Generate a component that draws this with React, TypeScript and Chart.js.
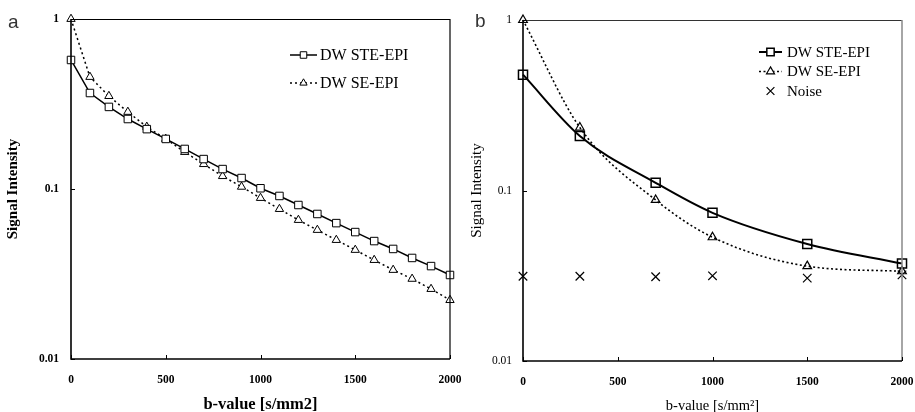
import React, { useEffect, useRef } from "react";
import { Chart, registerables } from "chart.js";
import { drawPoint } from "chart.js/helpers";

Chart.register(...registerables);

// ---- Panel a data ----
const bValuesA = [0, 100, 200, 300, 400, 500, 600, 700, 800, 900, 1000, 1100, 1200, 1300, 1400, 1500, 1600, 1700, 1800, 1900, 2000];
const steA = [0.574, 0.367, 0.304, 0.258, 0.225, 0.197, 0.172, 0.15, 0.131, 0.116, 0.101, 0.091, 0.0805, 0.0713, 0.063, 0.0558, 0.0494, 0.0444, 0.0393, 0.0352, 0.0312];
const seA = [1.0, 0.456, 0.352, 0.284, 0.232, 0.197, 0.165, 0.14, 0.119, 0.103, 0.0885, 0.0762, 0.0657, 0.0574, 0.0501, 0.0438, 0.0382, 0.0334, 0.0296, 0.0258, 0.0222];

// ---- Panel b data ----
const bValuesB = [0, 300, 700, 1000, 1500, 2000];
const steB = [0.478, 0.209, 0.111, 0.074, 0.0486, 0.0373];
const seB = [1.0, 0.234, 0.088, 0.0532, 0.036, 0.0336];
const noiseB = [0.0314, 0.0314, 0.0312, 0.0316, 0.0306, 0.032];

const yTickValues = [0.01, 0.1, 1];
const xTickValues = [0, 500, 1000, 1500, 2000];

const SERIF = "'Liberation Serif', 'Times New Roman', serif";

const toPoints = (xs: number[], ys: number[]) => xs.map((x, i) => ({ x, y: ys[i] }));

const framePlugin = {
  id: "frame",
  afterDatasetsDraw(chart: any, _args: any, opts: any) {
    const { ctx, chartArea: a, scales } = chart;
    ctx.save();
    ctx.lineWidth = 1;
    ctx.strokeStyle = opts.topColor || "#000";
    ctx.beginPath();
    ctx.moveTo(a.left, a.top + 0.5);
    ctx.lineTo(a.right, a.top + 0.5);
    ctx.stroke();
    ctx.lineWidth = opts.rightWidth || 1;
    ctx.strokeStyle = opts.rightColor || "#000";
    ctx.beginPath();
    ctx.moveTo(a.right, a.top);
    ctx.lineTo(a.right, a.bottom);
    ctx.stroke();
    ctx.strokeStyle = "#000";
    ctx.lineWidth = 1.6;
    ctx.beginPath();
    ctx.moveTo(a.left, a.top);
    ctx.lineTo(a.left, a.bottom);
    ctx.lineTo(a.right, a.bottom);
    ctx.stroke();
    ctx.lineWidth = 1;
    ctx.beginPath();
    xTickValues.forEach((v) => {
      const px = Math.round(scales.x.getPixelForValue(v)) + 0.5;
      ctx.moveTo(px, a.bottom);
      ctx.lineTo(px, a.bottom - 4);
    });
    yTickValues.forEach((v) => {
      const py = Math.round(scales.y.getPixelForValue(v)) + 0.5;
      ctx.moveTo(a.left, py);
      ctx.lineTo(a.left + 4, py);
    });
    ctx.stroke();
    ctx.restore();
  },
};

const legendPlugin = {
  id: "customLegend",
  afterDraw(chart: any, _args: any, opts: any) {
    const { ctx } = chart;
    ctx.save();
    ctx.textBaseline = "middle";
    chart.data.datasets.forEach((ds: any, i: number) => {
      const y = opts.y + i * opts.dy;
      const x0 = opts.x;
      const x1 = opts.x + opts.sampleW;
      if (ds.showLine !== false) {
        ctx.save();
        ctx.strokeStyle = ds.borderColor;
        ctx.lineWidth = ds.borderWidth;
        ctx.setLineDash(ds.borderDash || []);
        ctx.beginPath();
        ctx.moveTo(x0, y);
        ctx.lineTo(x1, y);
        ctx.stroke();
        ctx.restore();
      }
      ctx.save();
      ctx.setLineDash([]);
      ctx.fillStyle = "#fff";
      ctx.strokeStyle = "#000";
      ctx.lineWidth = ds.pointBorderWidth;
      drawPoint(
        ctx,
        {
          pointStyle: ds.pointStyle,
          radius: ds.legendRadius ?? ds.pointRadius,
          borderWidth: ds.pointBorderWidth,
          rotation: 0,
        } as any,
        (x0 + x1) / 2,
        y
      );
      ctx.restore();
      ctx.font = opts.font;
      ctx.fillStyle = "#000";
      ctx.fillText(ds.label, x1 + opts.gap, y + 1);
    });
    ctx.restore();
  },
};

function makeConfig(panel: "a" | "b"): any {
  const isA = panel === "a";
  const datasets: any[] = isA
    ? [
        {
          label: "DW STE-EPI",
          data: toPoints(bValuesA, steA),
          borderColor: "#000",
          borderWidth: 1.5,
          pointStyle: "rect",
          pointRadius: 5.3,
          legendRadius: 4.6,
          pointBorderWidth: 1,
          pointBackgroundColor: "#fff",
          pointBorderColor: "#000",
          tension: 0,
          clip: false,
        },
        {
          label: "DW SE-EPI",
          data: toPoints(bValuesA, seA),
          borderColor: "#000",
          borderWidth: 1.5,
          borderDash: [2, 3],
          pointStyle: "triangle",
          pointRadius: 4.8,
          legendRadius: 4.2,
          pointBorderWidth: 1,
          pointBackgroundColor: "#fff",
          pointBorderColor: "#000",
          tension: 0,
          clip: false,
        },
      ]
    : [
        {
          label: "DW STE-EPI",
          data: toPoints(bValuesB, steB),
          borderColor: "#000",
          borderWidth: 2,
          pointStyle: "rect",
          pointRadius: 6.4,
          legendRadius: 5.2,
          pointBorderWidth: 1.5,
          pointBackgroundColor: "rgba(255,255,255,0)",
          pointBorderColor: "#000",
          cubicInterpolationMode: "monotone",
          clip: false,
        },
        {
          label: "DW SE-EPI",
          data: toPoints(bValuesB, seB),
          borderColor: "#000",
          borderWidth: 1.6,
          borderDash: [2, 2.5],
          pointStyle: "triangle",
          pointRadius: 5,
          legendRadius: 4.6,
          pointBorderWidth: 1.2,
          pointBackgroundColor: "rgba(255,255,255,0)",
          pointBorderColor: "#000",
          cubicInterpolationMode: "monotone",
          clip: false,
        },
        {
          label: "Noise",
          data: toPoints(bValuesB, noiseB),
          showLine: false,
          borderColor: "#000",
          borderWidth: 1,
          pointStyle: "crossRot",
          pointRadius: 6,
          legendRadius: 5.5,
          pointBorderWidth: 1.2,
          pointBackgroundColor: "#000",
          pointBorderColor: "#000",
          clip: false,
        },
      ];

  return {
    type: "line",
    data: { datasets },
    plugins: [framePlugin, legendPlugin],
    options: {
      animation: false,
      responsive: false,
      maintainAspectRatio: false,
      layout: {
        padding: isA
          ? { left: 0, top: 19, right: 20, bottom: 0 }
          : { left: 0, top: 20, right: 13, bottom: 0 },
      },
      plugins: {
        legend: { display: false },
        tooltip: { enabled: false },
        frame: isA
          ? { topColor: "#000", rightColor: "#000", rightWidth: 1.2 }
          : { topColor: "#333", rightColor: "#888", rightWidth: 1.5 },
        customLegend: isA
          ? { x: 290, y: 55, dy: 28, sampleW: 27, gap: 3, font: `16px ${SERIF}` }
          : { x: 301, y: 52, dy: 19.5, sampleW: 23, gap: 5, font: `15px ${SERIF}` },
      },
      scales: {
        x: {
          type: "linear",
          min: 0,
          max: 2000,
          afterBuildTicks: (s: any) => {
            s.ticks = xTickValues.map((v) => ({ value: v }));
          },
          afterFit: (s: any) => {
            s.height = isA ? 53 : 51;
            s.paddingLeft = 0;
            s.paddingRight = 0;
          },
          grid: { display: false, drawTicks: false },
          border: { display: false },
          ticks: {
            color: "#000",
            padding: 14,
            maxRotation: 0,
            font: { family: SERIF, size: 11.5, weight: "bold" },
            callback: (v: any) => String(v),
          },
          title: {
            display: true,
            text: isA ? "b-value [s/mm2]" : "b-value [s/mm²]",
            color: "#000",
            font: { family: SERIF, size: isA ? 16.5 : 14.5, weight: isA ? "bold" : "normal", lineHeight: 1 },
            padding: { top: 0, bottom: -1 },
          },
        },
        y: {
          type: "logarithmic",
          min: 0.01,
          max: 1,
          afterBuildTicks: (s: any) => {
            s.ticks = yTickValues.map((v) => ({ value: v }));
          },
          afterFit: (s: any) => {
            s.width = isA ? 71 : 65;
            s.paddingTop = 0;
            s.paddingBottom = 0;
          },
          grid: { display: false, drawTicks: false },
          border: { display: false },
          ticks: {
            color: "#000",
            padding: isA ? 12 : 11,
            font: { family: SERIF, size: 11.5, weight: isA ? "bold" : "normal" },
            callback: (v: any) => String(v),
          },
          title: {
            display: true,
            text: "Signal Intensity",
            color: "#000",
            font: { family: SERIF, size: 15, weight: isA ? "bold" : "normal", lineHeight: 1 },
            padding: isA ? { top: 6, bottom: 0 } : { top: 12, bottom: 0 },
          },
        },
      },
    },
  };
}

function Panel({ panel, left, width }: { panel: "a" | "b"; left: number; width: number }) {
  const ref = useRef<HTMLCanvasElement | null>(null);
  useEffect(() => {
    if (!ref.current) return;
    const chart = new Chart(ref.current, makeConfig(panel));
    return () => chart.destroy();
  }, [panel]);
  return (
    <canvas
      ref={ref}
      width={width}
      height={412}
      style={{ position: "absolute", left, top: 0, width, height: 412 }}
    />
  );
}

export default function App() {
  return (
    <div
      style={{
        position: "fixed",
        left: 0,
        top: 0,
        width: 915,
        height: 412,
        background: "#fff",
        overflow: "hidden",
      }}
    >
      <Panel panel="a" left={0} width={470} />
      <Panel panel="b" left={458} width={457} />
      <span
        style={{
          position: "absolute",
          left: 8,
          top: 11,
          fontFamily: "'Liberation Sans', Arial, sans-serif",
          fontSize: 19,
          color: "#333",
        }}
      >
        a
      </span>
      <span
        style={{
          position: "absolute",
          left: 475,
          top: 10,
          fontFamily: "'Liberation Sans', Arial, sans-serif",
          fontSize: 19,
          color: "#333",
        }}
      >
        b
      </span>
    </div>
  );
}
